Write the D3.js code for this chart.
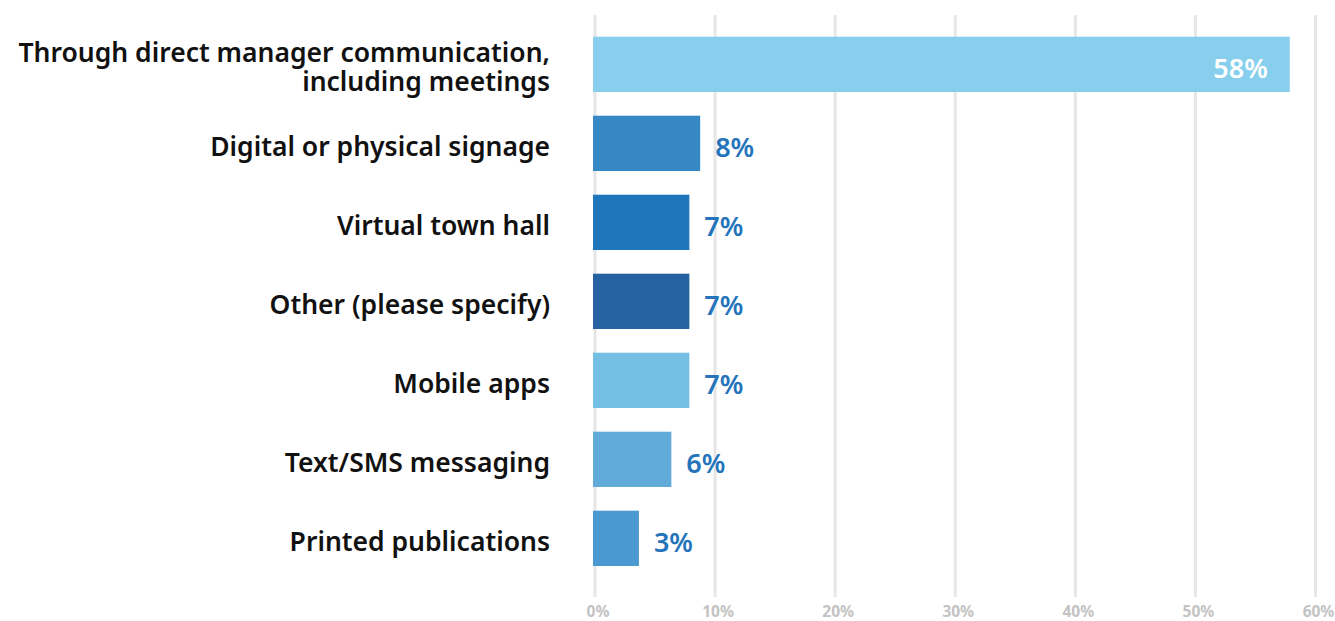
<!DOCTYPE html>
<html>
<head>
<meta charset="utf-8">
<script src="https://cdn.jsdelivr.net/npm/d3@7"></script>
<style>
  body { margin: 0; background: #fff; }
  text { font-family: "Noto Sans", "Open Sans", sans-serif; }
</style>
</head>
<body>
<div id="chart"></div>
<script>
const categories = [
    ["Through direct manager communication,", "including meetings"],
    ["Digital or physical signage"],
    ["Virtual town hall"],
    ["Other (please specify)"],
    ["Mobile apps"],
    ["Text/SMS messaging"],
    ["Printed publications"]
];
const values = [57.9, 8.8, 7.9, 7.9, 7.9, 6.4, 3.7];
const valueLabels = ["58%", "8%", "7%", "7%", "7%", "6%", "3%"];
const barColors = ["#87cfec", "#3588c4", "#1f76bb", "#2462a1", "#75bfe5", "#60abd9", "#4a99d0"];
const ticks = [0, 10, 20, 30, 40, 50, 60];

const width = 1335, height = 621;

const svg = d3.select('#chart')
    .append('svg')
        .attr('width', width)
        .attr('height', height);

const xScale = d3.scaleLinear()
    .domain([0, 60])
    .range([594.5, 1315]);

const yScale = d3.scaleBand()
    .domain(d3.range(categories.length))
    .range([13, 589.7])
    .paddingInner(0.3)
    .paddingOuter(0.3);

// grid lines + tick labels
const axis = svg.append('g')
        .attr('transform', 'translate(0,597)')
    .call(d3.axisBottom(xScale)
        .tickValues(ticks)
        .tickSize(-582)
        .tickPadding(9)
        .tickFormat(d => d + '%'));

axis.select('.domain').remove();
axis.selectAll('.tick line')
    .attr('stroke', '#e6e6e6')
    .attr('stroke-width', 3);
axis.selectAll('.tick text')
    .attr('fill', '#c3c3c3')
    .attr('font-size', 15.5)
    .attr('font-weight', 700)
    .attr('dx', 3);

// bars
svg.append('g')
    .selectAll('rect')
    .data(values)
    .enter()
    .append('rect')
        .attr('x', xScale(0) - 1.5)
        .attr('y', (d, i) => yScale(i))
        .attr('width', d => xScale(d) - xScale(0) + 1.5)
        .attr('height', yScale.bandwidth())
        .attr('fill', (d, i) => barColors[i]);

// value labels
svg.append('g')
    .selectAll('text')
    .data(values)
    .enter()
    .append('text')
        .attr('x', (d, i) => i === 0 ? xScale(d) - 22 : xScale(d) + 15)
        .attr('y', (d, i) => yScale(i) + yScale.bandwidth() / 2)
        .attr('dy', '0.5em')
        .attr('text-anchor', (d, i) => i === 0 ? 'end' : 'start')
        .attr('font-size', 27)
        .attr('font-weight', 600)
        .attr('fill', (d, i) => i === 0 ? '#ffffff' : '#2474bb')
        .text((d, i) => valueLabels[i]);

// category labels
const labels = svg.append('g')
    .selectAll('text')
    .data(categories)
    .enter()
    .append('text')
        .attr('x', 550)
        .attr('y', (d, i) => yScale(i) + yScale.bandwidth() / 2)
        .attr('text-anchor', 'end')
        .attr('font-size', 26.5)
        .attr('font-weight', 600)
        .attr('fill', '#111');

labels.selectAll('tspan')
    .data(d => d.map((t, j) => ({ t, j, n: d.length })))
    .enter()
    .append('tspan')
        .attr('x', 550)
        .attr('dy', d => d.j === 0 ? (0.46 - (d.n - 1) * 0.55) + 'em' : '1.08em')
        .text(d => d.t);
</script>
</body>
</html>
